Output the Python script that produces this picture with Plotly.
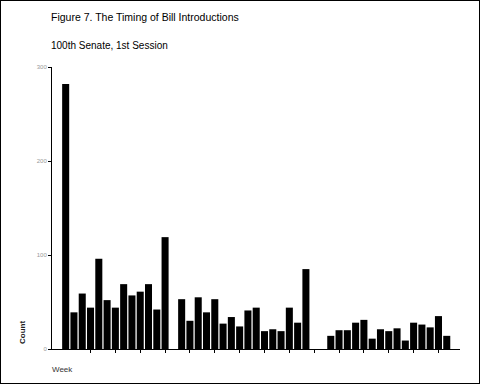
import plotly.graph_objects as go

weeks = list(range(1, 48))
counts = [282, 39, 59, 44, 96, 52, 44, 69, 57, 61, 69, 42, 119,
          0,
          53, 30, 55, 39, 53, 27, 34, 24, 41, 44, 19, 21, 19, 44, 28, 85,
          0, 0,
          14, 20, 20, 28, 31, 11, 21, 19, 22, 9, 28, 26, 23, 35, 14]
x_ticks = list(range(4, 47, 3))
y_ticks = [0, 100, 200, 300]
y_tick_labels = ["0", "100", "200", "300"]

W, H = 480, 384
ML, MR, MT, MB = 52, 20, 67, 35
PW, PH = W - ML - MR, H - MT - MB

fig = go.Figure(go.Bar(x=weeks, y=counts, marker=dict(color="black", line=dict(width=0)),
                       width=0.85))

fig.update_layout(
    width=W, height=H, autosize=False,
    margin=dict(l=ML, r=MR, t=MT, b=MB, pad=0),
    paper_bgcolor="white", plot_bgcolor="white",
    showlegend=False,
    font=dict(family="Liberation Sans, Arial, sans-serif", color="black"),
    xaxis=dict(range=[-0.65, 48.6], showgrid=False, zeroline=False,
               showline=True, linecolor="black", linewidth=1,
               ticks="outside", ticklen=3, tickcolor="black", tickwidth=1,
               tickvals=x_ticks, showticklabels=False),
    yaxis=dict(range=[0, 300], showgrid=False, zeroline=False,
               showline=True, linecolor="black", linewidth=1,
               ticks="outside", ticklen=3, tickcolor="black", tickwidth=1,
               tickvals=y_ticks, ticktext=y_tick_labels,
               tickfont=dict(size=6, color="#999999")),
    annotations=[
        dict(text="Figure 7. The Timing of Bill Introductions", xref="paper", yref="paper",
             x=(49 - ML) / PW, y=(H - MB - 17) / PH, xanchor="left", yanchor="middle",
             showarrow=False, font=dict(size=10.5, color="black")),
        dict(text="100th Senate, 1st Session", xref="paper", yref="paper",
             x=(49 - ML) / PW, y=(H - MB - 46) / PH, xanchor="left", yanchor="middle",
             showarrow=False, font=dict(size=10, color="black")),
        dict(text="<b>Count</b>", xref="paper", yref="paper", textangle=-90,
             x=(22 - ML) / PW, y=(H - MB - 333) / PH, xanchor="center", yanchor="middle",
             showarrow=False, font=dict(size=8, color="#222222")),
        dict(text="Week", xref="paper", yref="paper",
             x=(50 - ML) / PW, y=(H - MB - 369) / PH, xanchor="left", yanchor="middle",
             showarrow=False, font=dict(size=8, color="#333333")),
    ],
    shapes=[
        dict(type="rect", xref="paper", yref="paper",
             x0=(0 - ML) / PW, x1=(480 - ML) / PW,
             y0=(H - MB - 384) / PH, y1=(H - MB - 0) / PH,
             line=dict(color="black", width=2), fillcolor="rgba(0,0,0,0)", layer="above"),
    ],
)

fig.write_html("out.html", config={"displayModeBar": False},
               post_script="document.body.style.margin='0';document.body.style.padding='0';")
